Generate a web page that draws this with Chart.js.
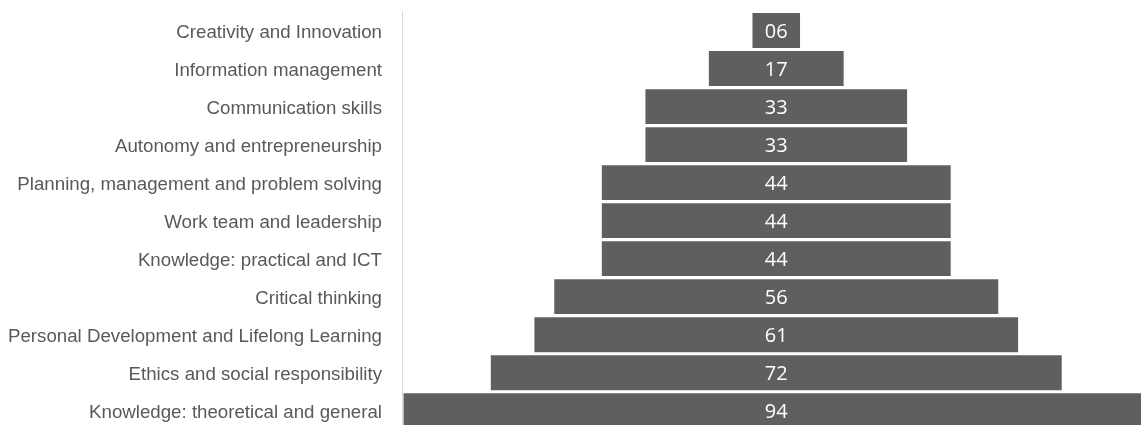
<!DOCTYPE html>
<html>
<head>
<meta charset="utf-8">
<script src="https://cdn.jsdelivr.net/npm/chart.js@4"></script>
<style>
  html, body { margin: 0; padding: 0; background: #fff; overflow: hidden; }
  #wrap { width: 1141px; height: 441px; }
</style>
</head>
<body>
<div id="wrap"><canvas id="funnel"></canvas></div>
<script>
// Funnel of competences (centered floating bars)
const categories = [
  'Creativity and Innovation',
  'Information management',
  'Communication skills',
  'Autonomy and entrepreneurship',
  'Planning, management and problem solving',
  'Work team and leadership',
  'Knowledge: practical and ICT',
  'Critical thinking',
  'Personal Development and Lifelong Learning',
  'Ethics and social responsibility',
  'Knowledge: theoretical and general'
];
const values = [6, 17, 33, 33, 44, 44, 44, 56, 61, 72, 94];

const BAR_COLOR = '#5f5f5f';
const LABEL_COLOR = '#595959';

// value text inside each bar
const valueLabels = {
  id: 'valueLabels',
  afterDatasetsDraw(chart) {
    const ctx = chart.ctx;
    const meta = chart.getDatasetMeta(0);
    ctx.save();
    ctx.fillStyle = '#ffffff';
    ctx.font = "20px 'Open Sans', sans-serif";
    ctx.textAlign = 'center';
    ctx.textBaseline = 'middle';
    const cx = chart.scales.x.getPixelForValue(0);
    meta.data.forEach((bar, i) => {
      ctx.fillText(String(values[i]).padStart(2, '0'), cx, bar.y + 2);
    });
    ctx.restore();
  }
};

const ctx = document.getElementById('funnel').getContext('2d');
new Chart(ctx, {
  type: 'bar',
  data: {
    labels: categories,
    datasets: [{
      data: values.map(v => [-v / 2, v / 2]),
      backgroundColor: BAR_COLOR,
      borderWidth: 0,
      categoryPercentage: 1,
      barPercentage: 0.916
    }]
  },
  options: {
    indexAxis: 'y',
    responsive: true,
    maintainAspectRatio: false,
    animation: false,
    layout: { padding: { top: 11.5, left: 0, right: 0, bottom: 0 } },
    plugins: {
      legend: { display: false },
      tooltip: { enabled: false }
    },
    scales: {
      x: {
        display: false,
        min: -47.2,
        max: 46.0
      },
      y: {
        offset: true,
        grid: { display: false, drawTicks: true, tickLength: 20 },
        border: { display: true, color: '#d9d9d9', width: 1 },
        ticks: {
          color: LABEL_COLOR,
          padding: 0,
          labelOffset: 2,
          font: { family: "'Liberation Sans', Arial, sans-serif", size: 18.7 }
        },
        afterFit: (scale) => { scale.width = 402; }
      }
    }
  },
  plugins: [valueLabels]
});
</script>
</body>
</html>
